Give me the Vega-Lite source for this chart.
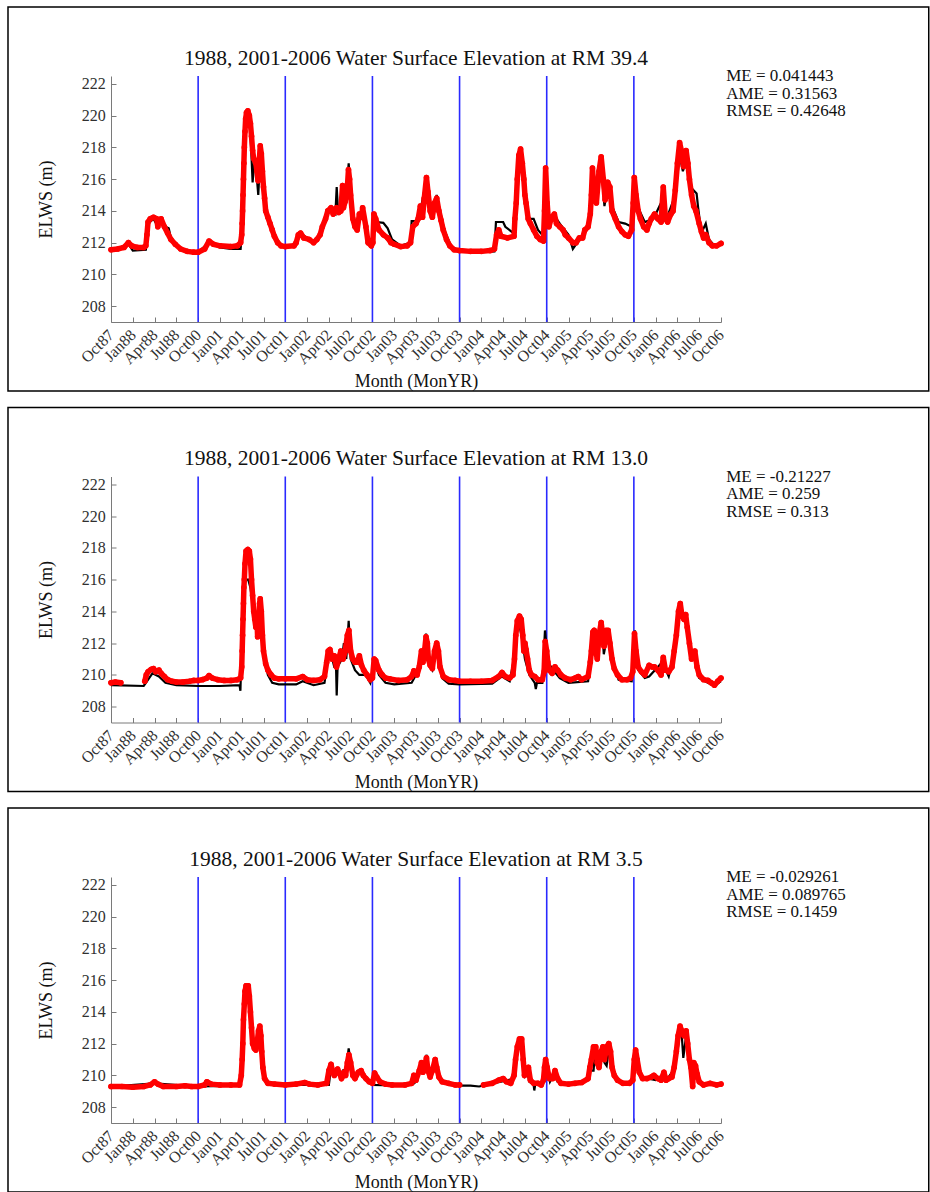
{
  "$schema": "https://vega.github.io/schema/vega-lite/v6.json",
  "padding": {"left": 7, "top": 6, "right": 0, "bottom": 0},
  "spacing": 14.5,
  "config": {
    "font": "Liberation Serif",
    "view": {"stroke": null},
    "axis": {"grid": false, "domainColor": "#7a7a7a", "tickColor": "#7a7a7a", "tickSize": -5, "labelColor": "#303030", "labelFontSize": 16, "titleFontSize": 18, "titleFontWeight": "normal", "titleColor": "#111111", "labelFont": "Liberation Serif", "titleFont": "Liberation Serif", "labelOverlap": false, "labelFlush": false, "labelBound": false},
    "title": {"fontSize": 21.5, "fontWeight": "normal", "font": "Liberation Serif", "color": "#111111", "anchor": "middle"}
  },
  "datasets": {
    "yr": [{"x": 4}, {"x": 8}, {"x": 12}, {"x": 16}, {"x": 20}, {"x": 24}],
    "m1": [{"x":0,"y":211.55},{"x":0.3,"y":211.6},{"x":0.6,"y":211.7},{"x":0.8,"y":212.0},{"x":0.95,"y":211.8},{"x":1.2,"y":211.7},{"x":1.5,"y":211.7},{"x":1.6,"y":211.8},{"x":1.65,"y":212.5},{"x":1.7,"y":213.3},{"x":1.8,"y":213.5},{"x":1.95,"y":213.6},{"x":2.1,"y":213.5},{"x":2.15,"y":213.0},{"x":2.2,"y":213.4},{"x":2.3,"y":213.5},{"x":2.45,"y":213.0},{"x":2.6,"y":212.6},{"x":2.75,"y":212.2},{"x":2.95,"y":211.9},{"x":3.2,"y":211.6},{"x":3.5,"y":211.45},{"x":3.8,"y":211.4},{"x":4.0,"y":211.4},{"x":4.3,"y":211.6},{"x":4.5,"y":212.1},{"x":4.7,"y":211.9},{"x":5.0,"y":211.8},{"x":5.5,"y":211.75},{"x":5.8,"y":211.8},{"x":5.95,"y":212.0},{"x":6.0,"y":212.5},{"x":6.02,"y":213.2},{"x":6.04,"y":214.0},{"x":6.06,"y":215.0},{"x":6.08,"y":216.0},{"x":6.1,"y":217.0},{"x":6.12,"y":218.0},{"x":6.15,"y":219.0},{"x":6.18,"y":219.8},{"x":6.22,"y":220.2},{"x":6.28,"y":220.3},{"x":6.35,"y":220.0},{"x":6.4,"y":219.5},{"x":6.45,"y":218.7},{"x":6.5,"y":217.8},{"x":6.55,"y":217.3},{"x":6.65,"y":217.0},{"x":6.7,"y":216.5},{"x":6.75,"y":215.9},{"x":6.8,"y":217.0},{"x":6.85,"y":218.1},{"x":6.9,"y":217.6},{"x":6.95,"y":216.5},{"x":7.0,"y":215.5},{"x":7.05,"y":214.8},{"x":7.1,"y":214.0},{"x":7.2,"y":213.6},{"x":7.3,"y":213.2},{"x":7.4,"y":212.8},{"x":7.5,"y":212.4},{"x":7.65,"y":212.0},{"x":7.8,"y":211.8},{"x":8.0,"y":211.75},{"x":8.4,"y":211.8},{"x":8.5,"y":212.0},{"x":8.6,"y":212.5},{"x":8.7,"y":212.6},{"x":8.85,"y":212.3},{"x":9.1,"y":212.2},{"x":9.3,"y":212.0},{"x":9.45,"y":212.2},{"x":9.6,"y":212.5},{"x":9.7,"y":213.0},{"x":9.85,"y":213.5},{"x":9.95,"y":214.0},{"x":10.1,"y":214.2},{"x":10.2,"y":213.8},{"x":10.35,"y":214.2},{"x":10.45,"y":213.9},{"x":10.55,"y":214.0},{"x":10.63,"y":215.6},{"x":10.67,"y":214.2},{"x":10.75,"y":214.6},{"x":10.85,"y":215.5},{"x":10.9,"y":216.6},{"x":10.95,"y":216.0},{"x":11.0,"y":215.0},{"x":11.1,"y":213.5},{"x":11.2,"y":213.0},{"x":11.3,"y":212.8},{"x":11.4,"y":213.8},{"x":11.5,"y":213.6},{"x":11.55,"y":214.2},{"x":11.7,"y":213.0},{"x":11.8,"y":212.0},{"x":11.95,"y":211.8},{"x":12.02,"y":212.0},{"x":12.07,"y":213.8},{"x":12.15,"y":213.5},{"x":12.3,"y":212.8},{"x":12.5,"y":212.5},{"x":12.7,"y":212.3},{"x":12.85,"y":212.0},{"x":13.0,"y":211.9},{"x":13.3,"y":211.75},{"x":13.6,"y":211.8},{"x":13.75,"y":212.0},{"x":13.85,"y":213.0},{"x":14.0,"y":213.2},{"x":14.1,"y":213.5},{"x":14.2,"y":214.3},{"x":14.3,"y":213.6},{"x":14.38,"y":214.8},{"x":14.48,"y":216.1},{"x":14.55,"y":215.2},{"x":14.65,"y":214.0},{"x":14.75,"y":213.6},{"x":14.85,"y":214.5},{"x":14.95,"y":214.8},{"x":15.05,"y":214.0},{"x":15.15,"y":213.4},{"x":15.25,"y":212.8},{"x":15.4,"y":212.2},{"x":15.55,"y":211.8},{"x":15.75,"y":211.55},{"x":16.0,"y":211.5},{"x":16.5,"y":211.45},{"x":17.0,"y":211.45},{"x":17.4,"y":211.5},{"x":17.6,"y":211.6},{"x":17.7,"y":212.5},{"x":17.8,"y":212.8},{"x":17.9,"y":212.4},{"x":18.2,"y":212.3},{"x":18.5,"y":212.4},{"x":18.54,"y":213.5},{"x":18.6,"y":214.5},{"x":18.65,"y":216.0},{"x":18.72,"y":217.5},{"x":18.8,"y":217.9},{"x":18.88,"y":217.0},{"x":18.95,"y":216.0},{"x":19.0,"y":215.0},{"x":19.05,"y":214.5},{"x":19.15,"y":213.5},{"x":19.25,"y":213.2},{"x":19.4,"y":212.8},{"x":19.55,"y":212.4},{"x":19.7,"y":212.2},{"x":19.85,"y":212.1},{"x":19.9,"y":214.0},{"x":19.95,"y":216.7},{"x":20.02,"y":214.5},{"x":20.1,"y":213.0},{"x":20.2,"y":213.5},{"x":20.35,"y":213.8},{"x":20.45,"y":213.2},{"x":20.6,"y":213.0},{"x":20.75,"y":212.8},{"x":20.85,"y":212.5},{"x":21.0,"y":212.3},{"x":21.2,"y":212.0},{"x":21.35,"y":212.0},{"x":21.5,"y":212.3},{"x":21.65,"y":212.3},{"x":21.75,"y":212.8},{"x":21.9,"y":213.0},{"x":22.0,"y":213.8},{"x":22.05,"y":215.0},{"x":22.1,"y":216.7},{"x":22.18,"y":215.0},{"x":22.28,"y":214.5},{"x":22.4,"y":216.5},{"x":22.5,"y":217.4},{"x":22.6,"y":216.0},{"x":22.68,"y":214.7},{"x":22.8,"y":215.8},{"x":22.9,"y":215.5},{"x":23.0,"y":214.0},{"x":23.15,"y":213.5},{"x":23.3,"y":213.0},{"x":23.45,"y":212.7},{"x":23.6,"y":212.5},{"x":23.75,"y":212.4},{"x":23.9,"y":212.8},{"x":23.97,"y":214.5},{"x":24.02,"y":216.1},{"x":24.1,"y":215.0},{"x":24.2,"y":214.0},{"x":24.3,"y":213.5},{"x":24.45,"y":213.0},{"x":24.6,"y":212.8},{"x":24.7,"y":213.2},{"x":24.8,"y":213.5},{"x":24.95,"y":213.8},{"x":25.1,"y":213.5},{"x":25.25,"y":213.3},{"x":25.35,"y":215.5},{"x":25.45,"y":213.5},{"x":25.55,"y":213.3},{"x":25.7,"y":213.8},{"x":25.8,"y":214.0},{"x":25.9,"y":215.3},{"x":26.0,"y":217.0},{"x":26.1,"y":218.3},{"x":26.18,"y":217.8},{"x":26.28,"y":216.8},{"x":26.4,"y":217.8},{"x":26.48,"y":217.0},{"x":26.55,"y":216.0},{"x":26.65,"y":215.0},{"x":26.75,"y":214.3},{"x":26.85,"y":214.0},{"x":27.0,"y":213.2},{"x":27.1,"y":212.7},{"x":27.2,"y":212.3},{"x":27.3,"y":212.5},{"x":27.45,"y":212.0},{"x":27.6,"y":211.8},{"x":27.8,"y":211.8},{"x":28.0,"y":211.95}],
    "o1": [{"x":0,"y":211.5},{"x":0.8,"y":211.9},{"x":1.0,"y":211.5},{"x":1.6,"y":211.55},{"x":1.7,"y":213.2},{"x":1.95,"y":213.5},{"x":2.15,"y":213.0},{"x":2.3,"y":213.4},{"x":2.5,"y":213.0},{"x":2.65,"y":212.9},{"x":2.75,"y":212.3},{"x":3.0,"y":211.8},{"x":3.5,"y":211.4},{"x":4.0,"y":211.4},{"x":4.5,"y":212.0},{"x":5.0,"y":211.7},{"x":5.5,"y":211.6},{"x":5.95,"y":211.6},{"x":6.0,"y":212.5},{"x":6.05,"y":215.0},{"x":6.1,"y":217.5},{"x":6.18,"y":219.5},{"x":6.3,"y":219.8},{"x":6.4,"y":219.0},{"x":6.5,"y":215.8},{"x":6.6,"y":217.5},{"x":6.7,"y":216.0},{"x":6.76,"y":215.0},{"x":6.85,"y":217.5},{"x":6.95,"y":216.0},{"x":7.05,"y":214.5},{"x":7.2,"y":213.5},{"x":7.5,"y":212.3},{"x":7.8,"y":211.8},{"x":8.0,"y":211.8},{"x":8.5,"y":211.9},{"x":8.7,"y":212.6},{"x":9.3,"y":212.0},{"x":9.6,"y":212.4},{"x":9.9,"y":213.8},{"x":10.1,"y":214.0},{"x":10.3,"y":213.8},{"x":10.36,"y":215.5},{"x":10.42,"y":214.0},{"x":10.6,"y":214.0},{"x":10.8,"y":215.0},{"x":10.91,"y":217.0},{"x":11.0,"y":215.0},{"x":11.15,"y":213.5},{"x":11.3,"y":212.8},{"x":11.45,"y":213.8},{"x":11.6,"y":213.5},{"x":11.8,"y":212.2},{"x":12.0,"y":212.0},{"x":12.07,"y":213.5},{"x":12.2,"y":213.3},{"x":12.5,"y":213.25},{"x":12.7,"y":212.9},{"x":12.9,"y":212.2},{"x":13.3,"y":211.8},{"x":13.75,"y":212.0},{"x":13.8,"y":213.35},{"x":14.1,"y":213.35},{"x":14.2,"y":214.0},{"x":14.45,"y":215.8},{"x":14.6,"y":214.2},{"x":14.75,"y":213.8},{"x":14.95,"y":215.0},{"x":15.1,"y":214.0},{"x":15.3,"y":212.8},{"x":15.6,"y":211.8},{"x":16.0,"y":211.45},{"x":17.0,"y":211.4},{"x":17.6,"y":211.45},{"x":17.67,"y":213.3},{"x":18.0,"y":213.3},{"x":18.1,"y":213.0},{"x":18.47,"y":212.6},{"x":18.6,"y":214.0},{"x":18.75,"y":217.0},{"x":18.9,"y":216.3},{"x":19.05,"y":214.2},{"x":19.15,"y":213.5},{"x":19.4,"y":213.5},{"x":19.6,"y":212.8},{"x":19.85,"y":212.4},{"x":19.92,"y":214.5},{"x":20.0,"y":213.5},{"x":20.3,"y":213.8},{"x":20.6,"y":213.2},{"x":21.0,"y":212.5},{"x":21.2,"y":211.6},{"x":21.4,"y":212.0},{"x":21.7,"y":212.5},{"x":22.0,"y":213.5},{"x":22.1,"y":216.0},{"x":22.3,"y":215.0},{"x":22.5,"y":216.8},{"x":22.65,"y":214.3},{"x":22.8,"y":215.5},{"x":23.0,"y":214.3},{"x":23.3,"y":213.3},{"x":23.6,"y":213.2},{"x":23.9,"y":213.0},{"x":24.0,"y":215.5},{"x":24.2,"y":214.2},{"x":24.5,"y":213.3},{"x":24.9,"y":213.5},{"x":25.35,"y":214.8},{"x":25.5,"y":213.5},{"x":25.9,"y":215.0},{"x":26.1,"y":217.5},{"x":26.25,"y":216.5},{"x":26.4,"y":217.2},{"x":26.6,"y":215.5},{"x":26.88,"y":215.1},{"x":26.95,"y":214.2},{"x":27.1,"y":212.6},{"x":27.3,"y":213.2},{"x":27.45,"y":212.2},{"x":27.7,"y":211.8},{"x":28.0,"y":212.0}],
    "m2": [{"x":0,"y":209.5},{"x":0.2,"y":209.55},{"x":0.45,"y":209.5},{"x":1.55,"y":209.6,"g":1},{"x":1.62,"y":210.0,"g":1},{"x":1.7,"y":210.2,"g":1},{"x":1.85,"y":210.35,"g":1},{"x":1.95,"y":210.4,"g":1},{"x":2.05,"y":210.2,"g":1},{"x":2.2,"y":210.3,"g":1},{"x":2.3,"y":210.1,"g":1},{"x":2.45,"y":209.9,"g":1},{"x":2.6,"y":209.7,"g":1},{"x":2.8,"y":209.6,"g":1},{"x":3.0,"y":209.55,"g":1},{"x":3.3,"y":209.55,"g":1},{"x":3.6,"y":209.6,"g":1},{"x":3.8,"y":209.65,"g":1},{"x":4.0,"y":209.65,"g":1},{"x":4.2,"y":209.7,"g":1},{"x":4.4,"y":209.8,"g":1},{"x":4.5,"y":209.95,"g":1},{"x":4.65,"y":209.8,"g":1},{"x":4.9,"y":209.7,"g":1},{"x":5.2,"y":209.65,"g":1},{"x":5.5,"y":209.65,"g":1},{"x":5.8,"y":209.7,"g":1},{"x":5.95,"y":209.8,"g":1},{"x":6.0,"y":210.5,"g":1},{"x":6.02,"y":211.5,"g":1},{"x":6.04,"y":212.5,"g":1},{"x":6.06,"y":213.5,"g":1},{"x":6.08,"y":214.5,"g":1},{"x":6.1,"y":215.5,"g":1},{"x":6.12,"y":216.0,"g":1},{"x":6.15,"y":217.0,"g":1},{"x":6.2,"y":217.8,"g":1},{"x":6.28,"y":217.9,"g":1},{"x":6.35,"y":217.8,"g":1},{"x":6.4,"y":217.3,"g":1},{"x":6.45,"y":216.0,"g":1},{"x":6.5,"y":215.0,"g":1},{"x":6.55,"y":214.0,"g":1},{"x":6.6,"y":213.5,"g":1},{"x":6.65,"y":213.0,"g":1},{"x":6.7,"y":213.5,"g":1},{"x":6.73,"y":212.4,"g":1},{"x":6.78,"y":213.5,"g":1},{"x":6.82,"y":214.5,"g":1},{"x":6.85,"y":214.8,"g":1},{"x":6.9,"y":214.0,"g":1},{"x":6.95,"y":212.5,"g":1},{"x":7.0,"y":211.5,"g":1},{"x":7.1,"y":210.7,"g":1},{"x":7.2,"y":210.3,"g":1},{"x":7.35,"y":210.0,"g":1},{"x":7.5,"y":209.8,"g":1},{"x":7.7,"y":209.75,"g":1},{"x":8.0,"y":209.75,"g":1},{"x":8.5,"y":209.75,"g":1},{"x":8.8,"y":209.9,"g":1},{"x":9.0,"y":209.7,"g":1},{"x":9.3,"y":209.65,"g":1},{"x":9.6,"y":209.7,"g":1},{"x":9.8,"y":209.9,"g":1},{"x":9.9,"y":210.8,"g":1},{"x":9.97,"y":211.5,"g":1},{"x":10.05,"y":211.6,"g":1},{"x":10.15,"y":211.0,"g":1},{"x":10.25,"y":211.2,"g":1},{"x":10.35,"y":210.5,"g":1},{"x":10.45,"y":211.0,"g":1},{"x":10.55,"y":211.5,"g":1},{"x":10.65,"y":211.0,"g":1},{"x":10.75,"y":211.5,"g":1},{"x":10.85,"y":212.5,"g":1},{"x":10.92,"y":212.8,"g":1},{"x":11.0,"y":211.5,"g":1},{"x":11.1,"y":211.0,"g":1},{"x":11.2,"y":210.8,"g":1},{"x":11.3,"y":210.8,"g":1},{"x":11.4,"y":211.2,"g":1},{"x":11.5,"y":210.6,"g":1},{"x":11.6,"y":210.3,"g":1},{"x":11.75,"y":210.0,"g":1},{"x":11.9,"y":209.7,"g":1},{"x":12.0,"y":209.8,"g":1},{"x":12.08,"y":211.0,"g":1},{"x":12.15,"y":210.9,"g":1},{"x":12.3,"y":210.3,"g":1},{"x":12.45,"y":210.0,"g":1},{"x":12.6,"y":209.8,"g":1},{"x":12.8,"y":209.75,"g":1},{"x":13.2,"y":209.65,"g":1},{"x":13.6,"y":209.7,"g":1},{"x":13.8,"y":209.9,"g":1},{"x":13.9,"y":210.25,"g":1},{"x":14.05,"y":210.0,"g":1},{"x":14.15,"y":210.5,"g":1},{"x":14.25,"y":211.5,"g":1},{"x":14.32,"y":210.8,"g":1},{"x":14.4,"y":211.6,"g":1},{"x":14.46,"y":212.4,"g":1},{"x":14.52,"y":212.0,"g":1},{"x":14.57,"y":211.0,"g":1},{"x":14.65,"y":210.6,"g":1},{"x":14.75,"y":210.4,"g":1},{"x":14.85,"y":211.5,"g":1},{"x":14.95,"y":212.0,"g":1},{"x":15.03,"y":211.5,"g":1},{"x":15.1,"y":210.5,"g":1},{"x":15.25,"y":209.9,"g":1},{"x":15.5,"y":209.7,"g":1},{"x":15.8,"y":209.65,"g":1},{"x":16.0,"y":209.6,"g":1},{"x":16.5,"y":209.6,"g":1},{"x":17.0,"y":209.6,"g":1},{"x":17.5,"y":209.65,"g":1},{"x":17.8,"y":209.9,"g":1},{"x":17.95,"y":210.15,"g":1},{"x":18.1,"y":209.9,"g":1},{"x":18.3,"y":209.8,"g":1},{"x":18.45,"y":210.0,"g":1},{"x":18.52,"y":211.0,"g":1},{"x":18.58,"y":212.5,"g":1},{"x":18.65,"y":213.4,"g":1},{"x":18.75,"y":213.7,"g":1},{"x":18.83,"y":213.5,"g":1},{"x":18.9,"y":212.5,"g":1},{"x":18.95,"y":211.5,"g":1},{"x":19.0,"y":212.0,"g":1},{"x":19.05,"y":211.6,"g":1},{"x":19.12,"y":211.0,"g":1},{"x":19.2,"y":210.3,"g":1},{"x":19.3,"y":210.0,"g":1},{"x":19.45,"y":209.9,"g":1},{"x":19.6,"y":209.7,"g":1},{"x":19.8,"y":209.7,"g":1},{"x":19.88,"y":210.2,"g":1},{"x":19.93,"y":212.1,"g":1},{"x":20.0,"y":211.5,"g":1},{"x":20.05,"y":210.8,"g":1},{"x":20.12,"y":210.3,"g":1},{"x":20.25,"y":210.1,"g":1},{"x":20.38,"y":210.5,"g":1},{"x":20.5,"y":210.3,"g":1},{"x":20.65,"y":210.0,"g":1},{"x":20.85,"y":209.8,"g":1},{"x":21.1,"y":209.7,"g":1},{"x":21.3,"y":209.8,"g":1},{"x":21.45,"y":209.9,"g":1},{"x":21.6,"y":209.7,"g":1},{"x":21.9,"y":209.9,"g":1},{"x":22.0,"y":210.8,"g":1},{"x":22.05,"y":211.5,"g":1},{"x":22.12,"y":212.7,"g":1},{"x":22.18,"y":212.8,"g":1},{"x":22.25,"y":211.5,"g":1},{"x":22.32,"y":211.0,"g":1},{"x":22.4,"y":212.5,"g":1},{"x":22.5,"y":213.3,"g":1},{"x":22.57,"y":212.5,"g":1},{"x":22.63,"y":211.8,"g":1},{"x":22.72,"y":212.8,"g":1},{"x":22.82,"y":212.8,"g":1},{"x":22.9,"y":212.0,"g":1},{"x":23.0,"y":211.0,"g":1},{"x":23.1,"y":210.4,"g":1},{"x":23.25,"y":210.0,"g":1},{"x":23.45,"y":209.7,"g":1},{"x":23.7,"y":209.7,"g":1},{"x":23.85,"y":209.8,"g":1},{"x":23.95,"y":210.2,"g":1},{"x":24.03,"y":212.6,"g":1},{"x":24.1,"y":211.5,"g":1},{"x":24.2,"y":210.5,"g":1},{"x":24.35,"y":210.2,"g":1},{"x":24.5,"y":210.0,"g":1},{"x":24.7,"y":210.6,"g":1},{"x":24.85,"y":210.5,"g":1},{"x":24.95,"y":210.5,"g":1},{"x":25.1,"y":210.3,"g":1},{"x":25.25,"y":210.0,"g":1},{"x":25.35,"y":211.1,"g":1},{"x":25.45,"y":210.3,"g":1},{"x":25.6,"y":210.2,"g":1},{"x":25.75,"y":210.5,"g":1},{"x":25.85,"y":211.5,"g":1},{"x":25.95,"y":212.5,"g":1},{"x":26.05,"y":214.0,"g":1},{"x":26.13,"y":214.5,"g":1},{"x":26.2,"y":213.8,"g":1},{"x":26.3,"y":213.5,"g":1},{"x":26.38,"y":213.8,"g":1},{"x":26.45,"y":213.0,"g":1},{"x":26.55,"y":212.0,"g":1},{"x":26.65,"y":211.0,"g":1},{"x":26.8,"y":211.5,"g":1},{"x":26.9,"y":210.5,"g":1},{"x":27.0,"y":210.0,"g":1},{"x":27.2,"y":209.7,"g":1},{"x":27.4,"y":209.65,"g":1},{"x":27.55,"y":209.5,"g":1},{"x":27.7,"y":209.35,"g":1},{"x":27.85,"y":209.6,"g":1},{"x":28.0,"y":209.8,"g":1}],
    "o2": [{"x":0,"y":209.35},{"x":1.5,"y":209.3},{"x":1.6,"y":209.5},{"x":1.9,"y":210.1},{"x":2.2,"y":209.9},{"x":2.5,"y":209.5},{"x":3.0,"y":209.35},{"x":4.0,"y":209.3},{"x":5.0,"y":209.3},{"x":5.9,"y":209.35},{"x":5.94,"y":209.0},{"x":5.97,"y":210.5},{"x":6.05,"y":213.5},{"x":6.1,"y":215.0},{"x":6.15,"y":216.0},{"x":6.3,"y":216.0},{"x":6.4,"y":215.5},{"x":6.5,"y":214.5},{"x":6.6,"y":213.2},{"x":6.7,"y":213.0},{"x":6.8,"y":214.0},{"x":6.85,"y":214.3},{"x":6.95,"y":212.0},{"x":7.05,"y":211.0},{"x":7.2,"y":210.0},{"x":7.4,"y":209.5},{"x":7.7,"y":209.4},{"x":8.5,"y":209.4},{"x":8.8,"y":209.6},{"x":9.3,"y":209.35},{"x":9.8,"y":209.5},{"x":9.95,"y":211.0},{"x":10.1,"y":211.3},{"x":10.25,"y":210.5},{"x":10.33,"y":210.5},{"x":10.36,"y":208.7},{"x":10.4,"y":210.5},{"x":10.6,"y":211.0},{"x":10.69,"y":212.0},{"x":10.8,"y":211.0},{"x":10.91,"y":213.4},{"x":11.0,"y":211.0},{"x":11.2,"y":210.3},{"x":11.4,"y":210.0},{"x":11.7,"y":210.0},{"x":11.9,"y":209.5},{"x":12.1,"y":210.8},{"x":12.3,"y":210.0},{"x":12.6,"y":209.5},{"x":13.0,"y":209.4},{"x":13.8,"y":209.5},{"x":14.0,"y":210.0},{"x":14.25,"y":211.3},{"x":14.35,"y":210.7},{"x":14.46,"y":212.6},{"x":14.6,"y":210.6},{"x":14.75,"y":210.3},{"x":14.95,"y":211.8},{"x":15.2,"y":209.8},{"x":15.5,"y":209.45},{"x":16.0,"y":209.4},{"x":17.5,"y":209.45},{"x":17.95,"y":209.9},{"x":18.3,"y":209.6},{"x":18.5,"y":211.0},{"x":18.7,"y":213.5},{"x":18.9,"y":212.0},{"x":19.0,"y":211.0},{"x":19.2,"y":210.0},{"x":19.45,"y":209.5},{"x":19.5,"y":209.1},{"x":19.55,"y":209.5},{"x":19.8,"y":209.5},{"x":19.92,"y":212.8},{"x":20.05,"y":210.8},{"x":20.3,"y":210.3},{"x":20.6,"y":209.8},{"x":21.0,"y":209.5},{"x":21.9,"y":209.6},{"x":22.1,"y":212.0},{"x":22.3,"y":211.0},{"x":22.52,"y":213.4},{"x":22.62,"y":211.3},{"x":22.8,"y":212.6},{"x":23.0,"y":210.8},{"x":23.3,"y":209.7},{"x":23.9,"y":209.6},{"x":24.05,"y":212.8},{"x":24.2,"y":210.3},{"x":24.5,"y":209.8},{"x":24.7,"y":209.9},{"x":25.3,"y":210.8},{"x":25.6,"y":209.9},{"x":25.85,"y":211.3},{"x":26.0,"y":213.5},{"x":26.15,"y":214.3},{"x":26.4,"y":213.5},{"x":26.6,"y":211.3},{"x":26.8,"y":211.2},{"x":27.0,"y":209.8},{"x":27.4,"y":209.5},{"x":27.7,"y":209.3},{"x":28.0,"y":209.6}],
    "m3": [{"x":0,"y":209.3},{"x":0.5,"y":209.3},{"x":1.0,"y":209.25},{"x":1.5,"y":209.3},{"x":1.8,"y":209.4},{"x":2.0,"y":209.6},{"x":2.15,"y":209.45},{"x":2.4,"y":209.3},{"x":3.0,"y":209.3},{"x":3.4,"y":209.35},{"x":3.7,"y":209.3},{"x":4.0,"y":209.3},{"x":4.3,"y":209.4},{"x":4.4,"y":209.6},{"x":4.6,"y":209.45},{"x":5.0,"y":209.4},{"x":5.5,"y":209.4},{"x":5.9,"y":209.4},{"x":5.98,"y":210.0},{"x":6.02,"y":211.0},{"x":6.05,"y":212.0},{"x":6.08,"y":213.5},{"x":6.12,"y":214.5},{"x":6.15,"y":215.3},{"x":6.2,"y":215.65},{"x":6.3,"y":215.65},{"x":6.35,"y":215.0},{"x":6.4,"y":214.0},{"x":6.45,"y":213.0},{"x":6.5,"y":212.0},{"x":6.58,"y":211.7},{"x":6.65,"y":211.6},{"x":6.72,"y":212.2},{"x":6.77,"y":212.8},{"x":6.83,"y":213.1},{"x":6.88,"y":212.5},{"x":6.92,"y":211.5},{"x":6.97,"y":210.5},{"x":7.05,"y":209.8},{"x":7.2,"y":209.5},{"x":7.5,"y":209.45},{"x":8.0,"y":209.4},{"x":8.5,"y":209.45},{"x":8.9,"y":209.55},{"x":9.1,"y":209.45},{"x":9.5,"y":209.4},{"x":9.9,"y":209.5},{"x":10.0,"y":210.3},{"x":10.1,"y":210.7},{"x":10.18,"y":210.2},{"x":10.25,"y":210.0},{"x":10.4,"y":210.4},{"x":10.5,"y":210.1},{"x":10.58,"y":209.8},{"x":10.65,"y":210.0},{"x":10.7,"y":210.2},{"x":10.77,"y":210.0},{"x":10.85,"y":210.8},{"x":10.92,"y":211.3},{"x":11.0,"y":210.8},{"x":11.1,"y":210.0},{"x":11.2,"y":209.8},{"x":11.35,"y":210.2},{"x":11.48,"y":210.3},{"x":11.58,"y":210.0},{"x":11.7,"y":209.8},{"x":11.85,"y":209.6},{"x":12.0,"y":209.5},{"x":12.1,"y":210.15},{"x":12.2,"y":209.9},{"x":12.35,"y":209.6},{"x":12.6,"y":209.45},{"x":12.9,"y":209.4},{"x":13.5,"y":209.4},{"x":13.8,"y":209.5},{"x":13.9,"y":210.0},{"x":14.0,"y":209.7},{"x":14.15,"y":210.3},{"x":14.25,"y":210.8},{"x":14.32,"y":210.2},{"x":14.4,"y":210.6},{"x":14.48,"y":211.1},{"x":14.55,"y":210.3},{"x":14.65,"y":209.9},{"x":14.75,"y":210.3},{"x":14.88,"y":211.0},{"x":14.95,"y":210.5},{"x":15.05,"y":209.9},{"x":15.2,"y":209.6},{"x":15.5,"y":209.5},{"x":15.8,"y":209.4},{"x":16.0,"y":209.4},{"x":17.1,"y":209.4,"g":1},{"x":17.5,"y":209.5,"g":1},{"x":17.8,"y":209.7,"g":1},{"x":18.0,"y":209.8,"g":1},{"x":18.15,"y":209.6,"g":1},{"x":18.35,"y":209.5,"g":1},{"x":18.5,"y":210.0,"g":1},{"x":18.57,"y":211.0,"g":1},{"x":18.65,"y":211.8,"g":1},{"x":18.75,"y":212.3,"g":1},{"x":18.85,"y":212.3,"g":1},{"x":18.92,"y":211.0,"g":1},{"x":18.98,"y":210.0,"g":1},{"x":19.08,"y":210.3,"g":1},{"x":19.16,"y":210.5,"g":1},{"x":19.25,"y":209.7,"g":1},{"x":19.4,"y":209.5,"g":1},{"x":19.6,"y":209.5,"g":1},{"x":19.75,"y":209.4,"g":1},{"x":19.85,"y":209.7,"g":1},{"x":19.9,"y":210.5,"g":1},{"x":19.95,"y":211.0,"g":1},{"x":20.02,"y":210.5,"g":1},{"x":20.12,"y":209.8,"g":1},{"x":20.28,"y":209.8,"g":1},{"x":20.38,"y":210.3,"g":1},{"x":20.5,"y":209.8,"g":1},{"x":20.65,"y":209.5,"g":1},{"x":21.0,"y":209.45,"g":1},{"x":21.3,"y":209.5,"g":1},{"x":21.6,"y":209.55,"g":1},{"x":21.9,"y":209.8,"g":1},{"x":21.98,"y":210.5,"g":1},{"x":22.05,"y":211.0,"g":1},{"x":22.15,"y":211.8,"g":1},{"x":22.25,"y":211.8,"g":1},{"x":22.32,"y":210.8,"g":1},{"x":22.4,"y":210.5,"g":1},{"x":22.5,"y":211.5,"g":1},{"x":22.58,"y":211.8,"g":1},{"x":22.65,"y":211.0,"g":1},{"x":22.75,"y":211.8,"g":1},{"x":22.85,"y":212.0,"g":1},{"x":22.93,"y":211.5,"g":1},{"x":23.0,"y":210.5,"g":1},{"x":23.1,"y":210.0,"g":1},{"x":23.25,"y":209.7,"g":1},{"x":23.5,"y":209.5,"g":1},{"x":23.8,"y":209.5,"g":1},{"x":23.95,"y":209.7,"g":1},{"x":24.02,"y":211.0,"g":1},{"x":24.08,"y":211.6,"g":1},{"x":24.15,"y":211.0,"g":1},{"x":24.25,"y":210.2,"g":1},{"x":24.4,"y":209.8,"g":1},{"x":24.6,"y":209.8,"g":1},{"x":24.8,"y":209.9,"g":1},{"x":24.92,"y":210.0,"g":1},{"x":25.1,"y":209.8,"g":1},{"x":25.25,"y":209.7,"g":1},{"x":25.38,"y":210.2,"g":1},{"x":25.48,"y":209.7,"g":1},{"x":25.6,"y":209.8,"g":1},{"x":25.75,"y":209.9,"g":1},{"x":25.85,"y":210.5,"g":1},{"x":25.95,"y":211.5,"g":1},{"x":26.03,"y":212.5,"g":1},{"x":26.12,"y":213.1,"g":1},{"x":26.2,"y":212.8,"g":1},{"x":26.3,"y":212.5,"g":1},{"x":26.4,"y":212.8,"g":1},{"x":26.47,"y":212.0,"g":1},{"x":26.55,"y":211.0,"g":1},{"x":26.62,"y":210.5,"g":1},{"x":26.7,"y":209.3,"g":1},{"x":26.75,"y":210.8,"g":1},{"x":26.83,"y":210.6,"g":1},{"x":26.9,"y":210.1,"g":1},{"x":27.0,"y":209.6,"g":1},{"x":27.2,"y":209.4,"g":1},{"x":27.5,"y":209.5,"g":1},{"x":27.8,"y":209.4,"g":1},{"x":28.0,"y":209.45,"g":1}],
    "o3": [{"x":0,"y":209.3},{"x":2.0,"y":209.5},{"x":4.0,"y":209.3},{"x":5.9,"y":209.35},{"x":6.0,"y":210.4},{"x":6.08,"y":213.5},{"x":6.15,"y":215.7},{"x":6.3,"y":215.7},{"x":6.45,"y":213.0},{"x":6.58,"y":211.9},{"x":6.66,"y":212.1},{"x":6.8,"y":213.0},{"x":6.95,"y":210.5},{"x":7.1,"y":209.6},{"x":8.0,"y":209.4},{"x":10.0,"y":209.4},{"x":10.1,"y":210.5},{"x":10.2,"y":210.1},{"x":10.4,"y":210.3},{"x":10.5,"y":210.0},{"x":10.66,"y":210.33},{"x":10.78,"y":210.3},{"x":10.91,"y":211.7},{"x":11.0,"y":210.8},{"x":11.2,"y":209.8},{"x":11.45,"y":210.2},{"x":11.7,"y":209.7},{"x":12.0,"y":209.4},{"x":13.5,"y":209.35},{"x":13.85,"y":209.45},{"x":14.0,"y":209.6},{"x":14.15,"y":210.2},{"x":14.25,"y":210.7},{"x":14.35,"y":210.3},{"x":14.49,"y":211.3},{"x":14.55,"y":210.3},{"x":14.65,"y":209.9},{"x":14.75,"y":210.2},{"x":14.88,"y":210.8},{"x":14.98,"y":210.3},{"x":15.1,"y":209.7},{"x":15.5,"y":209.4},{"x":16.0,"y":209.35},{"x":16.5,"y":209.35},{"x":16.9,"y":209.3},{"x":17.2,"y":209.4},{"x":17.9,"y":209.6},{"x":18.5,"y":209.8},{"x":18.57,"y":210.9},{"x":18.65,"y":211.7},{"x":18.8,"y":212.2},{"x":18.9,"y":211.0},{"x":19.0,"y":210.0},{"x":19.1,"y":210.3},{"x":19.2,"y":209.6},{"x":19.4,"y":209.4},{"x":19.43,"y":209.05},{"x":19.47,"y":209.4},{"x":19.85,"y":209.6},{"x":19.92,"y":210.8},{"x":20.05,"y":210.3},{"x":20.15,"y":209.6},{"x":20.35,"y":210.1},{"x":20.5,"y":209.6},{"x":21.0,"y":209.4},{"x":21.9,"y":209.7},{"x":22.0,"y":210.3},{"x":22.15,"y":210.3},{"x":22.22,"y":211.5},{"x":22.3,"y":210.6},{"x":22.45,"y":211.2},{"x":22.58,"y":211.5},{"x":22.65,"y":210.8},{"x":22.75,"y":210.6},{"x":22.85,"y":211.6},{"x":22.93,"y":211.3},{"x":23.05,"y":210.2},{"x":23.2,"y":209.7},{"x":23.5,"y":209.45},{"x":23.95,"y":209.6},{"x":24.05,"y":211.2},{"x":24.15,"y":210.8},{"x":24.3,"y":209.9},{"x":25.0,"y":209.7},{"x":25.38,"y":210.1},{"x":25.5,"y":209.7},{"x":25.85,"y":210.4},{"x":26.0,"y":211.5},{"x":26.12,"y":212.8},{"x":26.2,"y":212.5},{"x":26.27,"y":211.1},{"x":26.4,"y":212.5},{"x":26.5,"y":211.8},{"x":26.6,"y":210.5},{"x":26.8,"y":210.4},{"x":27.0,"y":209.5},{"x":28.0,"y":209.4}]
  },
  "vconcat": [
    {
      "width": 610, "height": 246,
      "title": {"text": "1988, 2001-2006 Water Surface Elevation at RM 39.4", "offset": -80, "baseline": "alphabetic"},
      "layer": [
        {"data": {"values": [{}]}, "mark": {"type": "rect", "fill": null, "stroke": "#000000", "strokeWidth": 1.5},
         "encoding": {"x": {"datum": -4.728, "type": "quantitative", "scale": {"domain": [0, 28], "nice": false, "zero": false}}, "x2": {"datum": 37.536},
                      "y": {"datum": 226.85, "type": "quantitative", "scale": {"domain": [207, 222.5], "nice": false, "zero": false}}, "y2": {"datum": 202.65}}},
        {"data": {"name": "yr"}, "mark": {"type": "rule", "color": "#2a2aff", "strokeWidth": 1.6},
         "encoding": {"x": {"field": "x", "type": "quantitative", "scale": {"domain": [0, 28], "nice": false, "zero": false}}}},
        {"data": {"name": "o1"}, "mark": {"type": "line", "color": "#000000", "strokeWidth": 2.2},
         "encoding": {
           "x": {"field": "x", "type": "quantitative", "scale": {"domain": [0, 28], "nice": false, "zero": false},
                 "axis": {"title": "Month (MonYR)", "values": [0,1,2,3,4,5,6,7,8,9,10,11,12,13,14,15,16,17,18,19,20,21,22,23,24,25,26,27,28], "tickCount": 40, "labelExpr": "['Oct87','Jan88','Apr88','Jul88','Oct00','Jan01','Apr01','Jul01','Oct01','Jan02','Apr02','Jul02','Oct02','Jan03','Apr03','Jul03','Oct03','Jan04','Apr04','Jul04','Oct04','Jan05','Apr05','Jul05','Oct05','Jan06','Apr06','Jul06','Oct06'][datum.value]", "labelAngle": -45, "labelAlign": "right", "labelBaseline": "middle", "labelPadding": 15, "labelOverlap": false, "titlePadding": 6}},
           "y": {"field": "y", "type": "quantitative", "scale": {"domain": [207, 222.5], "nice": false, "zero": false},
                 "axis": {"title": "ELWS (m)", "values": [208, 210, 212, 214, 216, 218, 220, 222], "tickCount": 20, "labelPadding": 10.75, "labelOverlap": false, "titlePadding": 26}}}},
        {"data": {"name": "m1"}, "mark": {"type": "line", "color": "#ff0000", "strokeWidth": 5.5, "strokeJoin": "round", "strokeCap": "round"},
         "encoding": {"x": {"field": "x", "type": "quantitative", "scale": {"domain": [0, 28], "nice": false, "zero": false}}, "y": {"field": "y", "type": "quantitative", "scale": {"domain": [207, 222.5], "nice": false, "zero": false}}, "detail": {"field": "g", "type": "nominal"}}},
        {"data": {"name": "m1"}, "mark": {"type": "circle", "color": "#ff0000", "size": 32, "opacity": 1},
         "encoding": {"x": {"field": "x", "type": "quantitative", "scale": {"domain": [0, 28], "nice": false, "zero": false}}, "y": {"field": "y", "type": "quantitative", "scale": {"domain": [207, 222.5], "nice": false, "zero": false}}}},
        {"data": {"values": [{}]}, "mark": {"type": "text", "align": "left", "baseline": "alphabetic", "fontSize": 17, "lineHeight": 17.5, "font": "Liberation Serif", "color": "#111111"},
         "encoding": {"x": {"datum": 28.24, "type": "quantitative", "scale": {"domain": [0, 28], "nice": false, "zero": false}}, "y": {"datum": 222.17, "type": "quantitative", "scale": {"domain": [207, 222.5], "nice": false, "zero": false}},
                      "text": {"value": ["ME = 0.041443", "AME = 0.31563", "RMSE = 0.42648"]}}}
      ]
    },
    {
      "width": 610, "height": 246,
      "title": {"text": "1988, 2001-2006 Water Surface Elevation at RM 13.0", "offset": -80, "baseline": "alphabetic"},
      "layer": [
        {"data": {"values": [{}]}, "mark": {"type": "rect", "fill": null, "stroke": "#000000", "strokeWidth": 1.5},
         "encoding": {"x": {"datum": -4.728, "type": "quantitative", "scale": {"domain": [0, 28], "nice": false, "zero": false}}, "x2": {"datum": 37.536},
                      "y": {"datum": 226.85, "type": "quantitative", "scale": {"domain": [207, 222.5], "nice": false, "zero": false}}, "y2": {"datum": 202.65}}},
        {"data": {"name": "yr"}, "mark": {"type": "rule", "color": "#2a2aff", "strokeWidth": 1.6},
         "encoding": {"x": {"field": "x", "type": "quantitative", "scale": {"domain": [0, 28], "nice": false, "zero": false}}}},
        {"data": {"name": "o2"}, "mark": {"type": "line", "color": "#000000", "strokeWidth": 2.2},
         "encoding": {
           "x": {"field": "x", "type": "quantitative", "scale": {"domain": [0, 28], "nice": false, "zero": false},
                 "axis": {"title": "Month (MonYR)", "values": [0,1,2,3,4,5,6,7,8,9,10,11,12,13,14,15,16,17,18,19,20,21,22,23,24,25,26,27,28], "tickCount": 40, "labelExpr": "['Oct87','Jan88','Apr88','Jul88','Oct00','Jan01','Apr01','Jul01','Oct01','Jan02','Apr02','Jul02','Oct02','Jan03','Apr03','Jul03','Oct03','Jan04','Apr04','Jul04','Oct04','Jan05','Apr05','Jul05','Oct05','Jan06','Apr06','Jul06','Oct06'][datum.value]", "labelAngle": -45, "labelAlign": "right", "labelBaseline": "middle", "labelPadding": 15, "labelOverlap": false, "titlePadding": 6}},
           "y": {"field": "y", "type": "quantitative", "scale": {"domain": [207, 222.5], "nice": false, "zero": false},
                 "axis": {"title": "ELWS (m)", "values": [208, 210, 212, 214, 216, 218, 220, 222], "tickCount": 20, "labelPadding": 10.75, "labelOverlap": false, "titlePadding": 26}}}},
        {"data": {"name": "m2"}, "mark": {"type": "line", "color": "#ff0000", "strokeWidth": 5.5, "strokeJoin": "round", "strokeCap": "round"},
         "encoding": {"x": {"field": "x", "type": "quantitative", "scale": {"domain": [0, 28], "nice": false, "zero": false}}, "y": {"field": "y", "type": "quantitative", "scale": {"domain": [207, 222.5], "nice": false, "zero": false}}, "detail": {"field": "g", "type": "nominal"}}},
        {"data": {"name": "m2"}, "mark": {"type": "circle", "color": "#ff0000", "size": 32, "opacity": 1},
         "encoding": {"x": {"field": "x", "type": "quantitative", "scale": {"domain": [0, 28], "nice": false, "zero": false}}, "y": {"field": "y", "type": "quantitative", "scale": {"domain": [207, 222.5], "nice": false, "zero": false}}}},
        {"data": {"values": [{}]}, "mark": {"type": "text", "align": "left", "baseline": "alphabetic", "fontSize": 17, "lineHeight": 17.5, "font": "Liberation Serif", "color": "#111111"},
         "encoding": {"x": {"datum": 28.24, "type": "quantitative", "scale": {"domain": [0, 28], "nice": false, "zero": false}}, "y": {"datum": 222.17, "type": "quantitative", "scale": {"domain": [207, 222.5], "nice": false, "zero": false}},
                      "text": {"value": ["ME = -0.21227", "AME = 0.259", "RMSE = 0.313"]}}}
      ]
    },
    {
      "width": 610, "height": 246,
      "title": {"text": "1988, 2001-2006 Water Surface Elevation at RM 3.5", "offset": -80, "baseline": "alphabetic"},
      "layer": [
        {"data": {"values": [{}]}, "mark": {"type": "rect", "fill": null, "stroke": "#000000", "strokeWidth": 1.5},
         "encoding": {"x": {"datum": -4.728, "type": "quantitative", "scale": {"domain": [0, 28], "nice": false, "zero": false}}, "x2": {"datum": 37.536},
                      "y": {"datum": 226.85, "type": "quantitative", "scale": {"domain": [207, 222.5], "nice": false, "zero": false}}, "y2": {"datum": 202.65}}},
        {"data": {"name": "yr"}, "mark": {"type": "rule", "color": "#2a2aff", "strokeWidth": 1.6},
         "encoding": {"x": {"field": "x", "type": "quantitative", "scale": {"domain": [0, 28], "nice": false, "zero": false}}}},
        {"data": {"name": "o3"}, "mark": {"type": "line", "color": "#000000", "strokeWidth": 2.2},
         "encoding": {
           "x": {"field": "x", "type": "quantitative", "scale": {"domain": [0, 28], "nice": false, "zero": false},
                 "axis": {"title": "Month (MonYR)", "values": [0,1,2,3,4,5,6,7,8,9,10,11,12,13,14,15,16,17,18,19,20,21,22,23,24,25,26,27,28], "tickCount": 40, "labelExpr": "['Oct87','Jan88','Apr88','Jul88','Oct00','Jan01','Apr01','Jul01','Oct01','Jan02','Apr02','Jul02','Oct02','Jan03','Apr03','Jul03','Oct03','Jan04','Apr04','Jul04','Oct04','Jan05','Apr05','Jul05','Oct05','Jan06','Apr06','Jul06','Oct06'][datum.value]", "labelAngle": -45, "labelAlign": "right", "labelBaseline": "middle", "labelPadding": 15, "labelOverlap": false, "titlePadding": 6}},
           "y": {"field": "y", "type": "quantitative", "scale": {"domain": [207, 222.5], "nice": false, "zero": false},
                 "axis": {"title": "ELWS (m)", "values": [208, 210, 212, 214, 216, 218, 220, 222], "tickCount": 20, "labelPadding": 10.75, "labelOverlap": false, "titlePadding": 26}}}},
        {"data": {"name": "m3"}, "mark": {"type": "line", "color": "#ff0000", "strokeWidth": 5.5, "strokeJoin": "round", "strokeCap": "round"},
         "encoding": {"x": {"field": "x", "type": "quantitative", "scale": {"domain": [0, 28], "nice": false, "zero": false}}, "y": {"field": "y", "type": "quantitative", "scale": {"domain": [207, 222.5], "nice": false, "zero": false}}, "detail": {"field": "g", "type": "nominal"}}},
        {"data": {"name": "m3"}, "mark": {"type": "circle", "color": "#ff0000", "size": 32, "opacity": 1},
         "encoding": {"x": {"field": "x", "type": "quantitative", "scale": {"domain": [0, 28], "nice": false, "zero": false}}, "y": {"field": "y", "type": "quantitative", "scale": {"domain": [207, 222.5], "nice": false, "zero": false}}}},
        {"data": {"values": [{}]}, "mark": {"type": "text", "align": "left", "baseline": "alphabetic", "fontSize": 17, "lineHeight": 17.5, "font": "Liberation Serif", "color": "#111111"},
         "encoding": {"x": {"datum": 28.24, "type": "quantitative", "scale": {"domain": [0, 28], "nice": false, "zero": false}}, "y": {"datum": 222.17, "type": "quantitative", "scale": {"domain": [207, 222.5], "nice": false, "zero": false}},
                      "text": {"value": ["ME = -0.029261", "AME = 0.089765", "RMSE = 0.1459"]}}}
      ]
    }
  ]
}
